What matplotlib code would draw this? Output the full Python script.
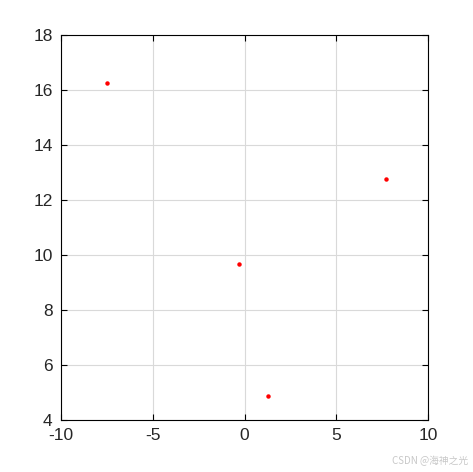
import matplotlib
matplotlib.use("Agg")
from matplotlib import pyplot as plt

# punti
x_vals = [-7.5, 7.7, -0.3, 1.3]
y_vals = [16.25, 12.77, 9.67, 4.87]

x_ticks = [-10, -5, 0, 5, 10]
y_ticks = [4, 6, 8, 10, 12, 14, 16, 18]

plt.rcParams['font.family'] = ['Liberation Sans', 'Noto Sans CJK SC', 'DejaVu Sans']
plt.rcParams['axes.unicode_minus'] = False

fig = plt.figure(figsize=(4.73, 4.72), dpi=100)
ax = fig.add_axes([61/473, 52/472, 367/473, 385/472])

ax.plot(x_vals, y_vals, linestyle="none", marker="o", markersize=2.2, color="red")

ax.set_xlim(-10, 10)
ax.set_ylim(4, 18)
ax.set_xticks(x_ticks)
ax.set_yticks(y_ticks)
ax.grid(True, color="#d9d9d9", linewidth=0.8)
ax.set_axisbelow(True)
ax.tick_params(direction="in", top=True, right=True, labelsize=12.5, labelcolor="#262626",
               length=4, width=0.8, pad=6)
for spine in ax.spines.values():
    spine.set_linewidth(0.8)

fig.text(0.99, 0.012, "CSDN @海神之光", ha="right", va="bottom", fontsize=7, color="#c8c8c8",
         family=['Noto Sans CJK SC', 'DejaVu Sans'])

fig.savefig("out.png", dpi=100)
